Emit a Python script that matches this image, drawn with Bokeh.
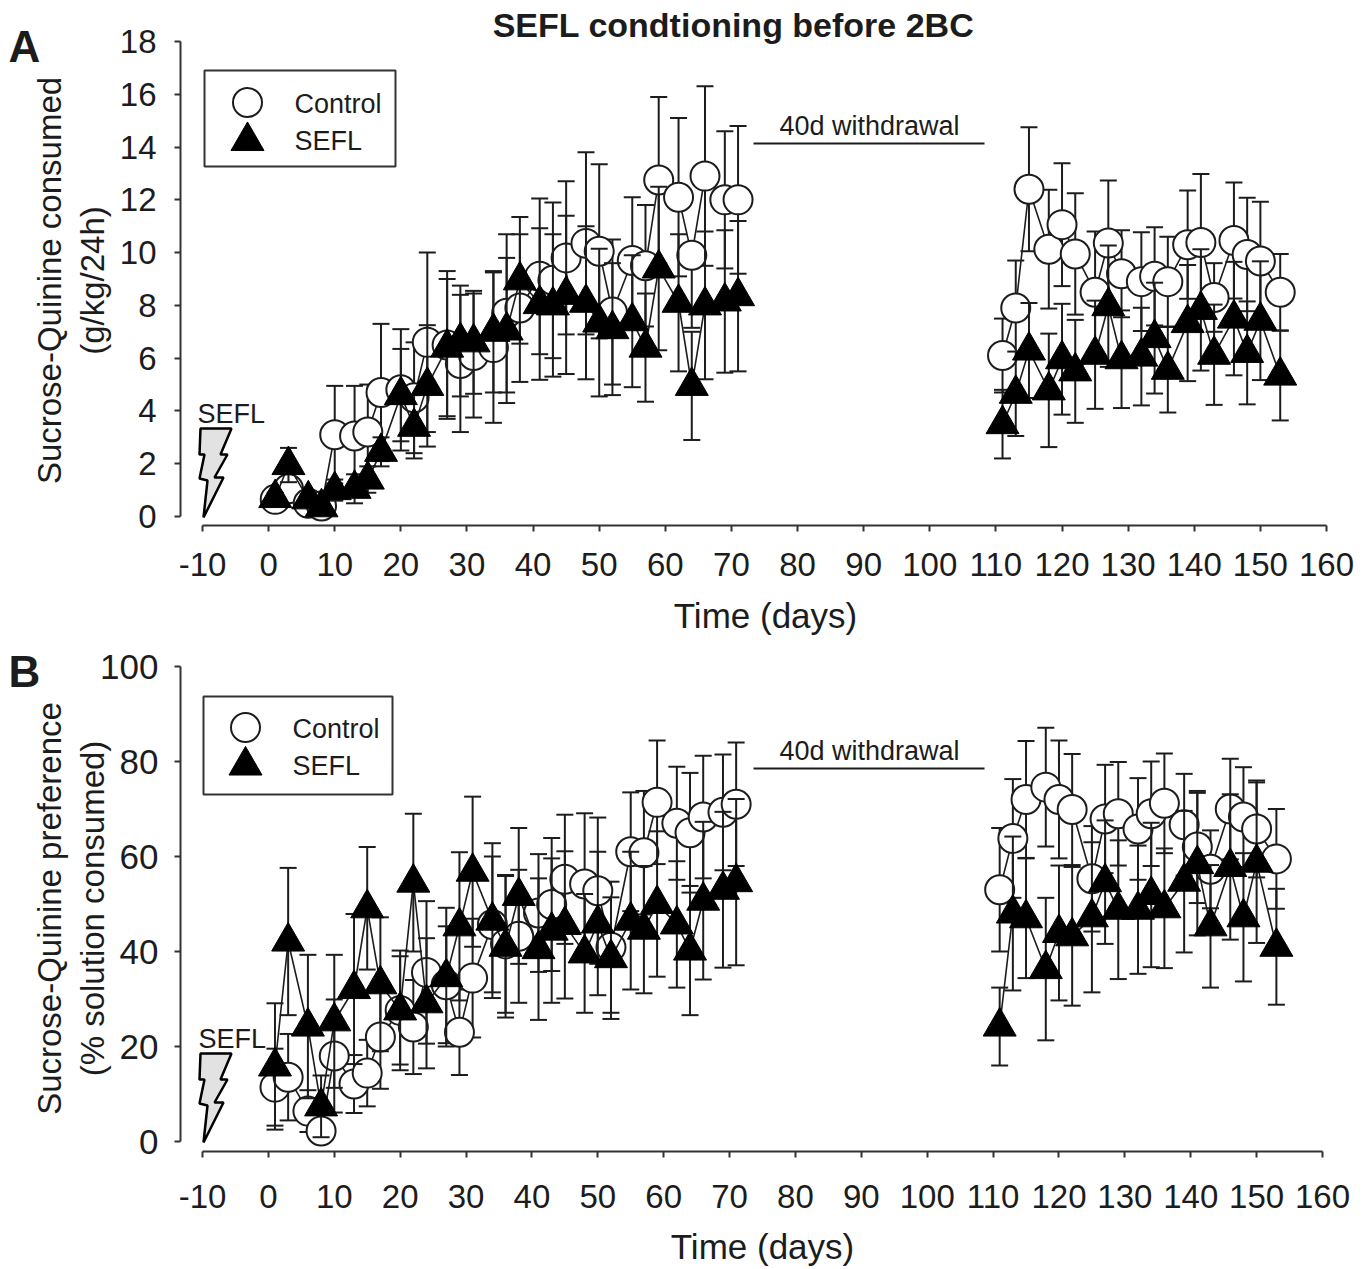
import numpy as np
from bokeh.plotting import figure
from bokeh.layouts import column
from bokeh.models import Range1d, FixedTicker, Label
from bokeh.embed import file_html
from bokeh.resources import INLINE

days = [1,3,6,8,10,13,15,17,20,22,24,27,29,31,34,36,38,41,43,45,48,50,52,55,57,59,62,64,66,69,71,
        111,113,115,118,120,122,125,127,129,132,134,136,139,141,143,146,148,150,153]

a_ctrl = [0.65,1.05,0.5,0.4,3.1,3.05,3.2,4.7,4.8,4.5,6.6,6.5,5.8,6.1,6.4,7.7,7.9,9.1,8.95,9.8,10.35,10.05,7.75,9.7,9.5,12.75,12.1,9.9,12.9,12.0,12.0,
          6.1,7.9,12.4,10.13,11.06,9.95,8.5,10.36,9.2,8.9,9.1,8.9,10.3,10.38,8.3,10.46,9.93,9.68,8.5]
a_ctrl_err = [0.2,0.3,0.2,0.2,1.85,1.9,1.8,2.6,2.3,2.1,3.4,2.8,2.6,2.35,2.85,3.0,2.8,2.95,2.95,2.9,3.45,3.3,2.75,2.4,2.3,3.15,3.0,2.75,3.4,2.6,2.8,
              1.4,1.8,2.35,2.25,2.33,2.3,2.3,2.37,1.65,1.87,1.86,1.7,2.05,2.6,1.3,2.2,2.15,2.25,1.45]
# upper bars that the reference does not show (day 64 of the control series in panel A)
a_ctrl_no_upper = [64]
a_sefl = [0.7,1.95,0.65,0.35,1.0,1.05,1.4,2.45,4.6,3.4,4.95,6.4,6.65,6.6,7.0,7.05,8.95,8.05,8.0,8.4,8.1,7.35,7.1,7.4,6.4,9.4,8.1,4.95,8.0,8.15,8.35,
          3.5,4.65,6.29,4.78,5.96,5.5,6.13,7.97,5.96,6.06,6.76,5.56,7.33,7.83,6.13,7.5,6.2,7.42,5.34]
a_sefl_err = [0.2,0.65,0.2,0.2,0.4,0.55,0.5,0.55,1.75,1.2,2.3,2.6,2.1,1.95,2.3,2.75,2.4,2.87,2.7,3.0,2.9,2.8,2.5,2.5,2.05,3.1,2.6,2.05,2.8,2.7,2.85,
              1.3,1.6,1.8,2.15,2.1,1.95,2.05,2.3,1.85,1.85,2.1,1.62,2.2,2.3,1.9,2.15,1.95,2.25,1.7]

b_ctrl = [11.44,13.54,6.4,2.2,18.0,12.1,14.4,22,27.6,24.1,35.6,33,23.0,34.4,45.7,41.6,43.2,48.1,49.9,55.2,54.2,52.8,40.9,61,60.8,71.4,67,65,68.3,69.3,71,
          53,63.8,72,74.6,72,69.9,55.3,67.9,69,65.8,69,71.2,66.7,62,57.3,70,68.3,65.8,59.5]
b_ctrl_err = [8.1,9.1,4.4,1.0,11.9,6.1,7.0,10.9,11.4,9.9,15,12.3,9,12.5,14.3,14.5,14,12.4,14,13.6,14.9,15.4,13.8,12.5,13,13,11.9,12.6,12.9,12.2,13,
              13,12.5,12.3,12.5,12.4,11.7,11.1,11.4,10.9,10.7,11,10.5,10.7,11.8,8.2,10.6,10.5,10.2,10.5]
b_sefl = [15.8,42.1,24.2,7.4,25.3,32.1,49.1,33.1,27.6,54.5,29.1,34.6,45.3,56.8,46.5,41,51.7,40.5,44.4,45.6,39.6,45.9,38.6,46.5,44.6,50,45.7,40.2,50.7,53,54.6,
          24.2,48,47,36.3,43.9,43.2,47.2,54.6,48.8,48.8,51.9,49.1,54.7,58.4,45.3,57.8,47.2,58.7,41]
b_sefl_err = [13.3,15.5,15.1,6.5,14,15.8,12.9,14.1,12.6,14.5,13.7,14.6,15.6,15.8,16.3,14.9,14.3,14.9,15.2,15.5,12.5,15.1,12.8,14.5,13.4,15.3,13.3,13.6,16.6,16.4,17.5,
              8.2,16.2,12.6,15,14.2,14.6,15.8,13,14.6,13.5,15.2,12.6,14.9,15,12.9,15.3,13.5,16.9,12.2]

x_ticks = list(range(-10, 170, 10))
a_y_ticks = list(range(0, 20, 2))
b_y_ticks = list(range(0, 120, 20))

# bolt outline, in page pixels of panel A
bolt_px_x = [200,231,220,227,214,223,203,207,199,204,199]
bolt_px_y = [428,428,454,454,477,477,517,480,478,454,454]

FONT = "Liberation Sans"
INK = "#1c1c1c"
SPLIT = 31
WIDTH = 1371


def panel(ctrl, ctrl_err, sefl, sefl_err, yticks, ylabels, letter, page_top, page_bottom,
          x_160_px, y0_px, ymax_px, spine_y, g, bolt_dy, no_upper=(), with_title=False):
    sx = (x_160_px - 202) / 170.0
    sy = (y0_px - ymax_px) / yticks[-1]
    def X(px):
        return -10 + (px - 202) / sx
    def Y(py):
        return (y0_px - py) / sy
    def note(px, py, txt, size, style="normal", align="center", angle=0.0):
        p.add_layout(Label(x=X(px), y=Y(py), text=txt, text_font=FONT, text_font_size=size,
                           text_font_style=style, text_color=INK, text_align=align,
                           text_baseline="middle", angle=angle, angle_units="deg"))
    p = figure(width=WIDTH, height=page_bottom - page_top, output_backend="svg", toolbar_location=None,
               x_range=Range1d(X(0), X(WIDTH)), y_range=Range1d(Y(page_bottom), Y(page_top)),
               min_border_left=0, min_border_right=0, min_border_top=0, min_border_bottom=0)
    p.outline_line_color = None
    p.xgrid.visible = False
    p.ygrid.visible = False
    for ax, ticks in ((p.xaxis[0], x_ticks), (p.yaxis[0], yticks)):
        ax.ticker = FixedTicker(ticks=ticks)
        ax.bounds = (ticks[0], ticks[-1])
        ax.minor_tick_line_color = None
        ax.major_tick_in = 0
        ax.major_tick_out = 6
        ax.major_tick_line_width = 2
        ax.major_tick_line_color = "#333333"
        ax.axis_line_width = 2
        ax.axis_line_color = "#333333"
        ax.major_label_text_font = FONT
        ax.major_label_text_font_size = "33px"
        ax.major_label_text_color = INK
    p.yaxis[0].major_label_text_font_size = g["ysize"]
    p.xaxis[0].major_label_overrides = {-10: "-10"}
    p.xaxis[0].fixed_location = Y(spine_y)
    p.yaxis[0].fixed_location = X(180)
    p.xaxis[0].major_label_standoff = g["xstand"]
    p.yaxis[0].major_label_standoff = g["ystand"]

    d = np.array(days, dtype=float)
    for vals, errs, kind in ((ctrl, ctrl_err, "c"), (sefl, sefl_err, "t")):
        v = np.array(vals, dtype=float)
        e = np.array(errs, dtype=float)
        keep_up = np.ones(len(d), dtype=bool)
        if kind == "c":
            keep_up = ~np.isin(d, no_upper)
        for a, b in ((0, SPLIT), (SPLIT, len(d))):
            p.line(d[a:b], v[a:b], line_color=INK, line_width=1.6)
        p.segment(d, v - e, d, np.where(keep_up, v + e, v), line_color=INK, line_width=2)
        p.scatter(d, v - e, marker="dash", size=17, line_color=INK, line_width=2)
        p.scatter(d[keep_up], (v + e)[keep_up], marker="dash", size=17, line_color=INK, line_width=2)
        if kind == "c":
            p.scatter(d, v, marker="circle", size=29, fill_color="white", line_color=INK, line_width=2)
        else:
            p.scatter(d, v, marker="triangle", size=33, fill_color="black", line_color="black", line_width=1)

    # axis titles
    note(g["xlab"], g["xlaby"], "Time (days)", "35px")
    note(49, g["ylab"], ylabels[0], "33px", angle=90.0)
    note(92, g["ylab"], ylabels[1], "33px", angle=90.0)

    # withdrawal note
    p.segment([X(753)], [Y(g["wy"])], [X(984)], [Y(g["wy"])], line_color=INK, line_width=2)
    note(869, g["wy"] - 18, "40d withdrawal", "27px")

    # legend
    l, r, t, b = g["box"]
    p.quad(left=[X(l)], right=[X(r)], top=[Y(t)], bottom=[Y(b)], fill_color="white",
           line_color="#333333", line_width=2)
    p.scatter([X(g["mx"])], [Y(g["cy"])], marker="circle", size=29, fill_color="white", line_color=INK, line_width=2)
    p.scatter([X(g["mx"])], [Y(g["ty"])], marker="triangle", size=33, fill_color="black", line_color="black", line_width=1)
    note(g["tx"], g["cy"] + 1, "Control", "27px", align="left")
    note(g["tx"], g["ty"], "SEFL", "27px", align="left")

    # shock bolt
    p.patch([X(v) for v in bolt_px_x], [Y(v + bolt_dy) for v in bolt_px_y], fill_color="#e2e2e2",
            line_color="black", line_width=2.5)
    note(g["sx"], g["sy"], "SEFL", "27px", align="left")

    # panel letter and title
    note(8, g["ly"], letter, "44px", style="bold", align="left")
    if with_title:
        note(733, 24, "SEFL condtioning before 2BC", "34px", style="bold")
    return p


pa = panel(a_ctrl, a_ctrl_err, a_sefl, a_sefl_err, a_y_ticks,
           ("Sucrose-Quinine consumed", "(g/kg/24h)"), "A", 0, 640, 1326, 516, 41, 525,
           dict(box=(204, 395, 70, 166), mx=247, cy=102, ty=140.5, tx=294, wy=143, sx=197, sy=413, ly=46,
                xlab=765, xlaby=615, ylab=280, ysize="33px", xstand=21, ystand=18),
           0, no_upper=a_ctrl_no_upper, with_title=True)
pb = panel(b_ctrl, b_ctrl_err, b_sefl, b_sefl_err, b_y_ticks,
           ("Sucrose-Quinine preference", "(% solution consumed)"), "B", 640, 1269, 1322, 1141, 666, 1151,
           dict(box=(203, 392, 696, 794), mx=245, cy=727, ty=765, tx=292, wy=768, sx=198, sy=1038, ly=671,
                xlab=762, xlaby=1246, ylab=908, ysize="35px", xstand=27, ystand=16),
           625)

open("out.html", "w").write(file_html(column(pa, pb, spacing=0), INLINE))
